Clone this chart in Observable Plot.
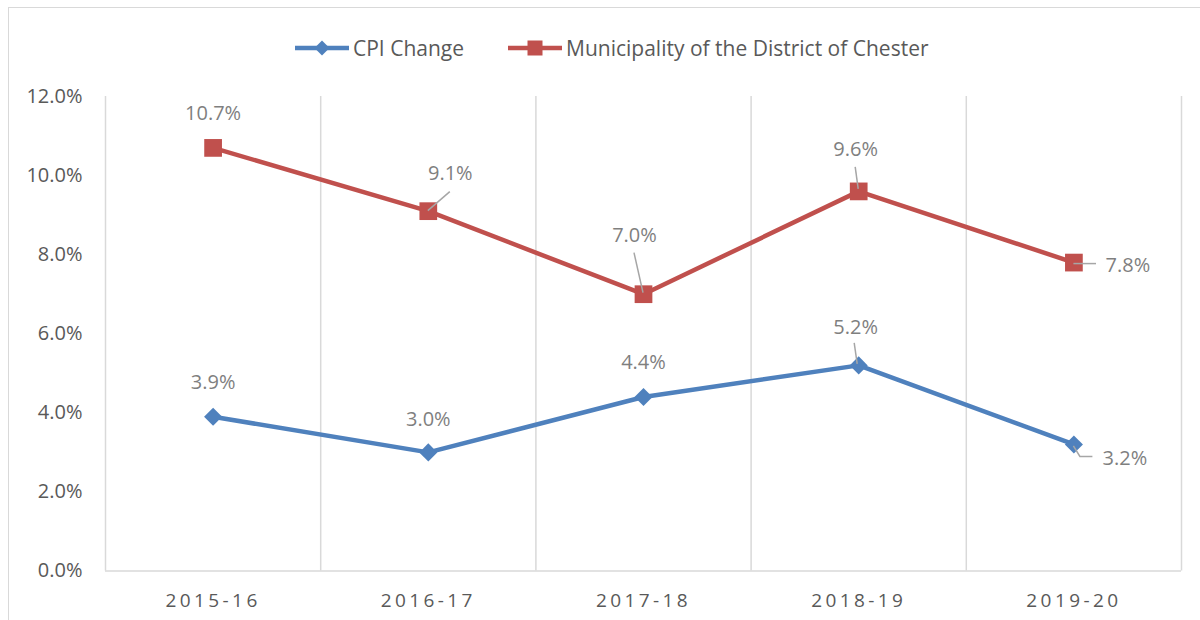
<!DOCTYPE html>
<html><head><meta charset="utf-8">
<script src="https://cdn.jsdelivr.net/npm/d3@7"></script>
<script src="https://cdn.jsdelivr.net/npm/@observablehq/plot@0.6"></script>
<style>
html,body{margin:0;padding:0;background:#fff;overflow:hidden;width:1200px;height:620px;}
#frame{position:absolute;left:8px;top:7px;width:1300px;height:700px;border:1.5px solid #d9d9d9;}
#legend{position:absolute;left:295px;top:35px;height:26px;display:flex;align-items:center;font-family:"Open Sans";font-size:21px;color:#595959;white-space:nowrap;}
.item{display:flex;align-items:center;}
.item svg{display:block;}
.item span{margin-left:4px;}
#chart{position:absolute;left:0;top:80px;}
#chart [aria-label="x-axis tick label"] text{letter-spacing:3.4px;}
</style></head><body>
<div id="frame"></div>
<div id="legend"></div>
<div id="chart"></div>
<script>
// ---- data ----
const categories = ["2015-16", "2016-17", "2017-18", "2018-19", "2019-20"];
const cpiChange = [3.9, 3.0, 4.4, 5.2, 3.2];
const chesterChange = [10.7, 9.1, 7.0, 9.6, 7.8];
const yTicks = [0, 2, 4, 6, 8, 10, 12];
const seriesNames = ["CPI Change", "Municipality of the District of Chester"];

// ---- styling ----
const seriesColors = ["#4F81BD", "#C0504D"];
const gridColor = "#d9d9d9";
const labelColor = "#7f7f7f";
const axisColor = "#595959";
const leaderColor = "#a6a6a6";
const font = "Open Sans";

// data label placement (pixel offsets from the marker), leader polylines
const cpiLabelLayout = [
  {dx: 0, dy: -34},
  {dx: 0, dy: -33},
  {dx: 0, dy: -34},
  {dx: -3, dy: -38, leader: [[-4, -22], [-1, -1]]},
  {dx: 28.6, dy: 14, anchor: "start", leader: [[0, 2], [6.5, 12.5], [19, 12.5]]}
];
const chesterLabelLayout = [
  {dx: 0, dy: -34},
  {dx: 22, dy: -38, leader: [[0, 0], [22, -19]]},
  {dx: -9, dy: -59, leader: [[0, -1], [-9, -41]]},
  {dx: -3, dy: -42, leader: [[-3, -24], [0, -2]]},
  {dx: 31.6, dy: 2.6, anchor: "start", leader: [[0, 1.5], [22.6, 1.5]]}
];

const idx = categories.map((_, i) => i);
const boundaries = d3.range(categories.length + 1).map(i => i - 0.5);
const fmt = v => v.toFixed(1) + "%";

const series = [
  {values: cpiChange, color: seriesColors[0], layout: cpiLabelLayout, symbol: "square", rotate: 45, r: 7.2},
  {values: chesterChange, color: seriesColors[1], layout: chesterLabelLayout, symbol: "square", rotate: 0, r: 10}
];

const marks = [
  Plot.ruleX(boundaries, {stroke: gridColor, strokeWidth: 1.5}),
  Plot.ruleY([0], {stroke: gridColor, strokeWidth: 1.5}),
  Plot.axisY(yTicks, {tickSize: 0, tickPadding: 23, tickFormat: fmt, fontSize: 20, fill: axisColor, color: axisColor}),
  Plot.axisX(idx, {tickSize: 0, tickPadding: 22, tickFormat: i => categories[i], fontSize: 19, fill: axisColor, color: axisColor, dx: 0})
];

for (const s of series) {
  marks.push(Plot.line(idx, {x: i => i, y: i => s.values[i], stroke: s.color, strokeWidth: 4.5}));
  marks.push(Plot.dot(idx, {x: i => i, y: i => s.values[i], symbol: s.symbol, rotate: s.rotate, r: s.r, fill: s.color, stroke: "none"}));
}

// leader lines, drawn through the plot's own scales
marks.push((index, scales) => {
  const g = d3.create("svg:g").attr("fill", "none").attr("stroke", leaderColor).attr("stroke-width", 1.5);
  for (const s of series) {
    s.layout.forEach((L, i) => {
      if (!L.leader) return;
      const cx = scales.x(i), cy = scales.y(s.values[i]);
      g.append("path").attr("d", d3.line()(L.leader.map(([a, b]) => [cx + a, cy + b])));
    });
  }
  return g.node();
});

for (const s of series) {
  s.layout.forEach((L, i) => {
    marks.push(Plot.text([i], {
      x: d => d, y: d => s.values[d], text: d => fmt(s.values[d]),
      dx: L.dx, dy: L.dy, textAnchor: L.anchor || "middle",
      fill: labelColor, fontSize: 20
    }));
  });
}

const chart = Plot.plot({
  width: 1200,
  height: 540,
  marginTop: 16,
  marginBottom: 49.5,
  marginLeft: 105,
  marginRight: 19,
  x: {domain: [-0.5, categories.length - 0.5]},
  y: {domain: [0, 12]},
  style: {fontFamily: font, background: "transparent", overflow: "visible"},
  marks
});
document.getElementById("chart").appendChild(chart);

// legend
const legend = d3.select("#legend");
seriesNames.forEach((name, k) => {
  const item = legend.append("div").attr("class", "item").style("margin-right", k === 0 ? "44px" : "0");
  const svg = item.append("svg").attr("width", 54).attr("height", 26);
  svg.append("line").attr("x1", 0).attr("x2", 54).attr("y1", 13).attr("y2", 13)
    .attr("stroke", seriesColors[k]).attr("stroke-width", 4.5);
  if (k === 0) {
    svg.append("path").attr("d", "M27,5.5L34.5,13L27,20.5L19.5,13Z").attr("fill", seriesColors[k]);
  } else {
    svg.append("rect").attr("x", 19.5).attr("y", 5.5).attr("width", 15).attr("height", 15).attr("fill", seriesColors[k]);
  }
  item.append("span").text(name);
});
</script>
</body></html>
